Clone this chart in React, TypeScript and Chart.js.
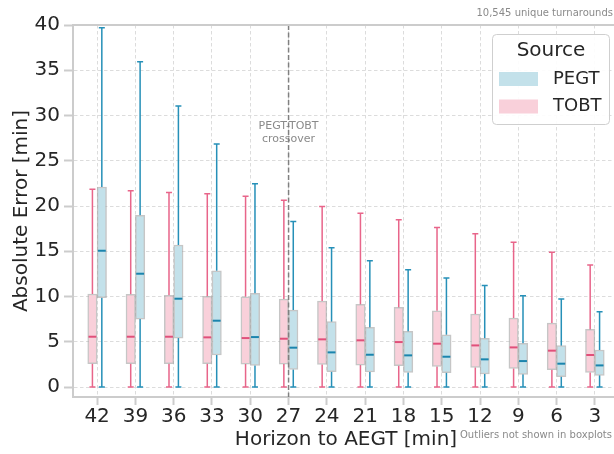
import React, { useEffect, useRef } from 'react';
import { Chart, registerables } from 'chart.js';
Chart.register(...registerables);

const HORIZONS = ['42', '39', '36', '33', '30', '27', '24', '21', '18', '15', '12', '9', '6', '3'];

const TOBT_LOW = [0, 0, 0, 0, 0, 0, 0, 0, 0, 0, 0, 0, 0, 0];
const TOBT_Q1 = [2.58, 2.58, 2.58, 2.58, 2.54, 2.54, 2.5, 2.43, 2.36, 2.28, 2.17, 2.06, 1.92, 1.62];
const TOBT_MED = [5.56, 5.56, 5.56, 5.49, 5.41, 5.34, 5.27, 5.16, 4.97, 4.79, 4.6, 4.38, 4.02, 3.54];
const TOBT_Q3 = [10.28, 10.24, 10.13, 10.02, 9.98, 9.72, 9.5, 9.13, 8.8, 8.43, 8.07, 7.62, 7.07, 6.37];
const TOBT_HIGH = [21.85, 21.7, 21.5, 21.36, 21.07, 20.63, 19.96, 19.19, 18.49, 17.64, 16.94, 15.99, 14.88, 13.48];

const PEGT_LOW = [0, 0, 0, 0, 0, 0, 0, 0, 0, 0, 0, 0, 0, 0];
const PEGT_Q1 = [9.87, 7.51, 5.41, 3.54, 2.39, 1.95, 1.7, 1.66, 1.62, 1.58, 1.44, 1.4, 1.14, 1.29];
const PEGT_MED = [15.06, 12.52, 9.76, 7.33, 5.52, 4.35, 3.83, 3.57, 3.5, 3.35, 3.06, 2.87, 2.58, 2.39];
const PEGT_Q3 = [22.1, 18.97, 15.69, 12.85, 10.35, 8.5, 7.22, 6.59, 6.15, 5.78, 5.38, 4.83, 4.57, 4.09];
const PEGT_HIGH = [39.7, 35.95, 31.05, 26.85, 22.47, 18.3, 15.4, 13.96, 12.97, 12.04, 11.23, 10.09, 9.72, 8.32];

const Y_TICKS = [0, 5, 10, 15, 20, 25, 30, 35, 40];
const CROSSOVER = '27';

const FONT = "'DejaVu Sans', sans-serif";
const TEXT = '#262626';

const TOBT_FILL = '#f9d0da';
const PEGT_FILL = '#c3e1ea';
const TOBT_LINE = '#e8658a';
const PEGT_LINE = '#2690b8';
const TOBT_MEDC = '#e0507a';
const PEGT_MEDC = '#1a84ad';

const SERIES = [
  { label: 'TOBT', low: TOBT_LOW, q1: TOBT_Q1, med: TOBT_MED, q3: TOBT_Q3, high: TOBT_HIGH, fill: TOBT_FILL, line: TOBT_LINE, medc: TOBT_MEDC },
  { label: 'PEGT', low: PEGT_LOW, q1: PEGT_Q1, med: PEGT_MED, q3: PEGT_Q3, high: PEGT_HIGH, fill: PEGT_FILL, line: PEGT_LINE, medc: PEGT_MEDC },
];

export default function App() {
  const ref = useRef<HTMLCanvasElement>(null);

  useEffect(() => {
    const canvas = ref.current;
    if (!canvas) return;

    const boxPlugin = {
      id: 'boxParts',
      beforeDatasetsDraw(chart: any) {
        const ctx = chart.ctx;
        const ys = chart.scales.y;
        SERIES.forEach((s, d) => {
          const meta = chart.getDatasetMeta(d);
          meta.data.forEach((el: any, i: number) => {
            const x = el.x;
            const yLow = ys.getPixelForValue(s.low[i]);
            const yQ1 = ys.getPixelForValue(s.q1[i]);
            const yQ3 = ys.getPixelForValue(s.q3[i]);
            const yHigh = ys.getPixelForValue(s.high[i]);
            ctx.save();
            ctx.strokeStyle = s.line;
            ctx.lineWidth = 1.5;
            ctx.beginPath();
            ctx.moveTo(x, yLow);
            ctx.lineTo(x, yQ1);
            ctx.moveTo(x, yQ3);
            ctx.lineTo(x, yHigh);
            ctx.moveTo(x - 3, yLow);
            ctx.lineTo(x + 3, yLow);
            ctx.moveTo(x - 3, yHigh);
            ctx.lineTo(x + 3, yHigh);
            ctx.stroke();
            ctx.restore();
          });
        });
      },
      afterDatasetsDraw(chart: any) {
        const ctx = chart.ctx;
        const ys = chart.scales.y;
        const xs = chart.scales.x;
        const area = chart.chartArea;
        SERIES.forEach((s, d) => {
          const meta = chart.getDatasetMeta(d);
          meta.data.forEach((el: any, i: number) => {
            const x = el.x;
            const w = el.width;
            const yMed = ys.getPixelForValue(s.med[i]);
            ctx.save();
            ctx.strokeStyle = s.medc;
            ctx.lineWidth = 2;
            ctx.beginPath();
            ctx.moveTo(x - w / 2 + 0.75, yMed);
            ctx.lineTo(x + w / 2 - 0.75, yMed);
            ctx.stroke();
            ctx.restore();
          });
        });
        // crossover annotation
        const cx = xs.getPixelForValue(HORIZONS.indexOf(CROSSOVER));
        ctx.save();
        ctx.fillStyle = '#8a8a8a';
        ctx.font = `11px ${FONT}`;
        ctx.textAlign = 'center';
        ctx.textBaseline = 'middle';
        ctx.fillText('PEGT-TOBT', cx, 126);
        ctx.fillText('crossover', cx, 139);
        ctx.restore();
        ctx.save();
        ctx.strokeStyle = '#808080';
        ctx.lineWidth = 1.5;
        ctx.setLineDash([5, 2.5]);
        ctx.beginPath();
        ctx.moveTo(cx, area.top);
        ctx.lineTo(cx, area.bottom);
        ctx.stroke();
        ctx.restore();
      },
      afterDraw(chart: any) {
        const ctx = chart.ctx;
        const area = chart.chartArea;
        // top spine
        ctx.save();
        ctx.strokeStyle = '#cccccc';
        ctx.lineWidth = 2;
        ctx.beginPath();
        ctx.moveTo(area.left - 1, area.top);
        ctx.lineTo(area.right, area.top);
        ctx.stroke();
        ctx.restore();

        // annotations
        ctx.save();
        ctx.fillStyle = '#8a8a8a';
        ctx.font = `10px ${FONT}`;
        ctx.textAlign = 'right';
        ctx.textBaseline = 'middle';
        ctx.fillText('10,545 unique turnarounds', 613, 13.5);
        ctx.fillText('Outliers not shown in boxplots', 612, 435);
        ctx.restore();

        // legend
        const lx = 492.5, ly = 34.5, lw = 117, lh = 90;
        ctx.save();
        ctx.beginPath();
        ctx.roundRect(lx, ly, lw, lh, 4);
        ctx.fillStyle = 'rgba(255,255,255,0.9)';
        ctx.fill();
        ctx.strokeStyle = '#cfcfcf';
        ctx.lineWidth = 1;
        ctx.stroke();
        ctx.fillStyle = TEXT;
        ctx.textBaseline = 'middle';
        ctx.textAlign = 'center';
        ctx.font = `20px ${FONT}`;
        ctx.fillText('Source', lx + lw / 2, 51);
        const entries = [SERIES[1], SERIES[0]];
        entries.forEach((s, k) => {
          const cy = 79 + k * 27.5;
          ctx.fillStyle = s.fill;
          ctx.fillRect(499, cy - 7, 39, 14);
          ctx.fillStyle = TEXT;
          ctx.textAlign = 'left';
          ctx.font = `18px ${FONT}`;
          ctx.fillText(s.label, 553, cy);
        });
        ctx.restore();
      },
    };

    const chart = new Chart(canvas, {
      type: 'bar',
      data: {
        datasets: SERIES.map((s) => ({
          label: s.label,
          data: HORIZONS.map((_, i) => ({ x: i, y: [s.q1[i], s.q3[i]] })),
          backgroundColor: s.fill,
          borderColor: 'rgba(160,160,160,0.6)',
          borderWidth: 1.5,
          borderSkipped: false,
          barThickness: 9.4,
        })),
      },
      options: {
        responsive: false,
        animation: false,
        devicePixelRatio: 1,
        layout: { padding: { left: 0, right: 11, top: 25, bottom: 0 } },
        plugins: { legend: { display: false }, tooltip: { enabled: false } },
        scales: {
          x: {
            type: 'linear',
            min: -0.63,
            max: 13.63,
            offset: false,
            afterBuildTicks: (scale: any) => {
              scale.ticks = HORIZONS.map((_, i) => ({ value: i }));
            },
            afterFit: (scale: any) => {
              scale.height = 57;
            },
            grid: {
              offset: false,
              color: '#dcdcdc',
              lineWidth: 1,
              drawTicks: true,
              tickLength: 8,
              tickColor: '#cccccc',
              tickWidth: 2,
              tickBorderDash: [],
            },
            border: { display: true, color: '#cccccc', width: 2, dash: [3.5, 2.5] },
            ticks: {
              autoSkip: false,
              maxRotation: 0,
              padding: 0,
              color: TEXT,
              font: { family: FONT, size: 20 },
              callback: (v: any) => HORIZONS[v as number],
            },
            title: {
              display: true,
              text: 'Horizon to AEGT [min]',
              color: TEXT,
              font: { family: FONT, size: 20 },
              padding: { top: 0, bottom: 2 },
            },
          },
          y: {
            type: 'linear',
            min: -1.1,
            max: 40,
            afterBuildTicks: (scale: any) => {
              scale.ticks = Y_TICKS.map((v) => ({ value: v }));
            },
            afterFit: (scale: any) => {
              scale.width = 73;
            },
            grid: {
              color: '#dcdcdc',
              lineWidth: 1,
              drawTicks: true,
              tickLength: 9,
              tickColor: '#cccccc',
              tickWidth: 2,
              tickBorderDash: [],
            },
            border: { display: true, color: '#cccccc', width: 2, dash: [3.5, 2.5] },
            ticks: {
              padding: 4,
              color: TEXT,
              font: { family: FONT, size: 20 },
            },
            title: {
              display: true,
              text: 'Absolute Error [min]',
              color: TEXT,
              font: { family: FONT, size: 20 },
              padding: { top: 10, bottom: 0 },
            },
          },
        },
      },
      plugins: [boxPlugin],
    });

    return () => chart.destroy();
  }, []);

  return (
    <div style={{ position: 'fixed', left: 0, top: 0, width: 614, height: 454, overflow: 'hidden', background: '#ffffff' }}>
      <canvas ref={ref} width={630} height={454} style={{ width: 630, height: 454, display: 'block' }} />
    </div>
  );
}
